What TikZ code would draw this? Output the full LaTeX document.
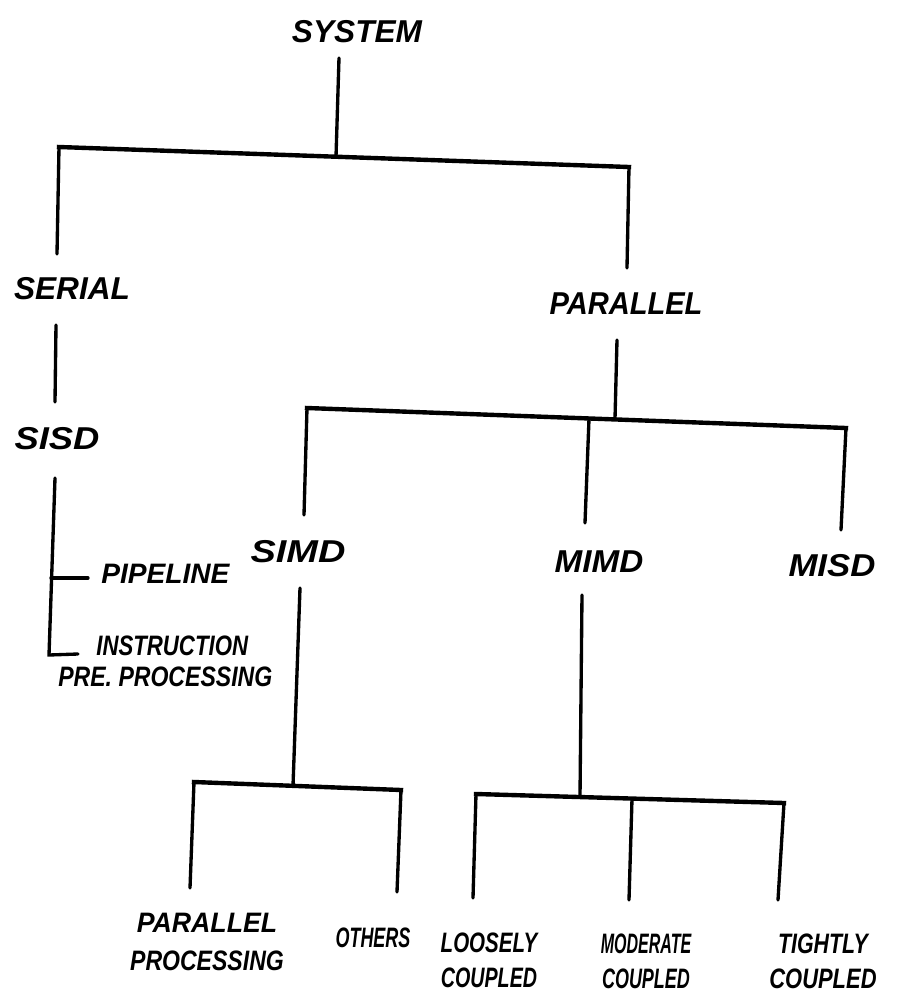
\documentclass[tikz,border=0pt]{standalone}
\usepackage{fontspec}
\usepackage{graphicx}
\setmainfont{Liberation Sans}
% squeeze a handwritten-looking word horizontally
\newcommand{\sq}[2]{\scalebox{#1}[1]{#2}}
\begin{document}
\begin{tikzpicture}[x=0.02cm,y=-0.02cm,
  lbl/.style={font=\bfseries\itshape\fontsize{18}{21}\selectfont, inner sep=0pt, align=center},
  mid/.style={font=\bfseries\itshape\fontsize{16}{17.6}\selectfont, inner sep=0pt, align=left},
  leaf/.style={font=\bfseries\itshape\fontsize{16}{19.9}\selectfont, inner sep=0pt, align=center},
  bar/.style={line width=2.5pt, line cap=rect},
  stem/.style={line width=1.9pt, line cap=round}]
\useasboundingbox (0,0) rectangle (909,1002);

% ---------- labels ----------
\node[lbl] (sys)  at (357,32)  {SYSTEM};
\node[lbl] (ser)  at (72,289)  {SERIAL};
\node[lbl] (par)  at (626,304) {\sq{0.92}{PARALLEL}};
\node[lbl] (sisd) at (57,439)  {\sq{1.15}{SISD}};
\node[mid, anchor=west] (pipe) at (101,574) {PIPELINE};
\node[mid, anchor=west] (ipp)  at (58,661)
  {\hspace*{0.76cm}\sq{0.79}{INSTRUCTION}\\\sq{0.82}{PRE.\ PROCESSING}};
\node[lbl] (simd) at (298,552) {\sq{1.2}{SIMD}};
\node[lbl] (mimd) at (599,562) {\sq{1.05}{MIMD}};
\node[lbl] (misd) at (832,566) {\sq{1.1}{MISD}};

\node[leaf, font=\bfseries\itshape\fontsize{16}{22}\selectfont] (pp) at (207,942)
  {\sq{0.95}{PARALLEL}\\\sq{0.82}{PROCESSING}};
\node[leaf] (oth)   at (373,938) {\sq{0.64}{OTHERS}};
\node[leaf] (loose) at (489,960) {\sq{0.73}{LOOSELY}\\\sq{0.7}{COUPLED}};
\node[leaf] (mod)   at (646,961) {\sq{0.57}{MODERATE}\\\sq{0.64}{COUPLED}};
\node[leaf] (tight) at (823,961) {\sq{0.76}{TIGHTLY}\\\sq{0.78}{COUPLED}};

% ---------- junction points ----------
\coordinate (sysS) at (339,58);   \coordinate (sysJ) at (336,157);
\coordinate (b1L)  at (59,147);   \coordinate (b1R)  at (629,167);
\coordinate (serT) at (57,254);   \coordinate (parT) at (627,268);

\coordinate (serS)  at (56,325);  \coordinate (sisdT) at (55,402);
\coordinate (sisdS) at (55,478);  \coordinate (sisdC) at (49,655);
\coordinate (ippE)  at (78,654);
\coordinate (pipeJ) at (51,578);  \coordinate (pipeE) at (88,578);

\coordinate (parS) at (617,340);  \coordinate (parJ) at (615,419);
\coordinate (b2L)  at (307,408);  \coordinate (b2R)  at (846,428);
\coordinate (b2M)  at (589,419);
\coordinate (simdT) at (304,515); \coordinate (mimdT) at (585,523);
\coordinate (misdT) at (841,530);

\coordinate (simdS) at (300,588); \coordinate (simdJ) at (293,786);
\coordinate (b3L) at (194,782);   \coordinate (b3R) at (401,790);
\coordinate (ppT) at (190,888);   \coordinate (othT) at (397,892);

\coordinate (mimdS) at (582,595); \coordinate (mimdJ) at (580,797);
\coordinate (b4L) at (476,794);   \coordinate (b4R) at (784,803);
\coordinate (b4M) at (632,799);
\coordinate (looseT) at (473,898); \coordinate (modT) at (629,900);
\coordinate (tightT) at (778,900);

% ---------- connectors ----------
% system -> serial / parallel
\draw[stem] (sysS) -- (sysJ);
\draw[bar]  (b1L) -- (b1R);
\draw[stem] (b1L) -- (serT);
\draw[stem] (b1R) -- (parT);

% serial branch
\draw[stem] (serS) -- (sisdT);
\draw[stem, line join=miter] (sisdS) -- (sisdC) -- (ippE);
\draw[stem] (pipeJ) -- (pipeE);

% parallel -> SIMD / MIMD / MISD
\draw[stem] (parS) -- (parJ);
\draw[bar]  (b2L) -- (b2R);
\draw[stem] (b2L) -- (simdT);
\draw[stem] (b2M) -- (mimdT);
\draw[stem] (b2R) -- (misdT);

% SIMD subtree
\draw[stem] (simdS) -- (simdJ);
\draw[bar]  (b3L) -- (b3R);
\draw[stem] (b3L) -- (ppT);
\draw[stem] (b3R) -- (othT);

% MIMD subtree
\draw[stem] (mimdS) -- (mimdJ);
\draw[bar]  (b4L) -- (b4R);
\draw[stem] (b4L) -- (looseT);
\draw[stem] (b4M) -- (modT);
\draw[stem] (b4R) -- (tightT);
\end{tikzpicture}
\end{document}
